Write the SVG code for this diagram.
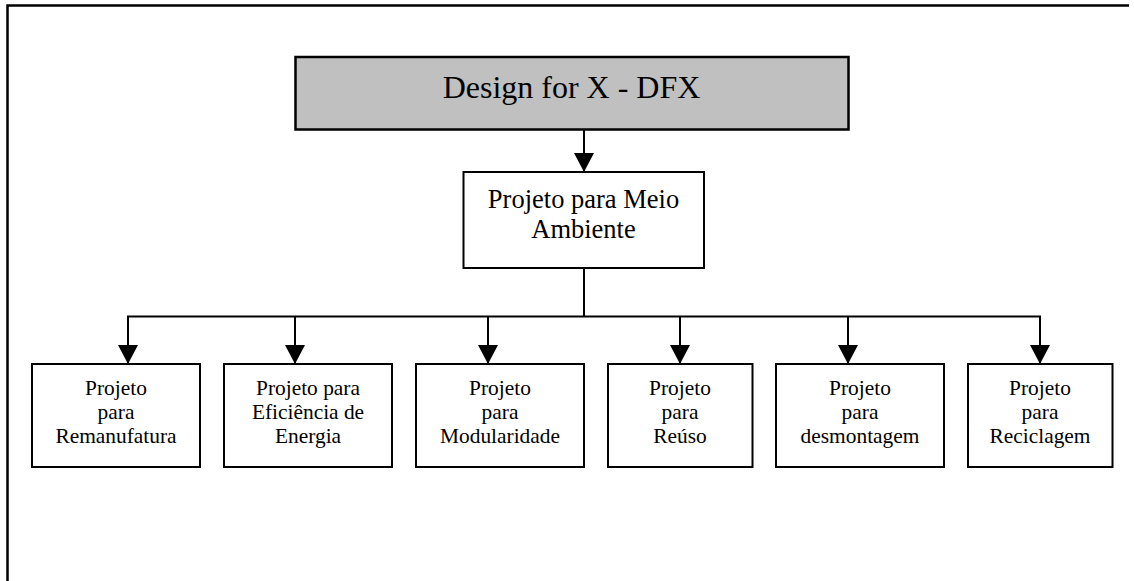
<svg xmlns="http://www.w3.org/2000/svg" width="1134" height="581" viewBox="0 0 1134 581">
  <style>
    .box { fill: #ffffff; stroke: #000000; stroke-width: 2; }
    .root { fill: #c0c0c0; stroke: #000000; stroke-width: 2.5; }
    .frame { fill: none; stroke: #000000; stroke-width: 2.5; }
    .conn { fill: none; stroke: #000000; stroke-width: 2; }
    text { font-family: "Liberation Serif", "Times New Roman", serif; fill: #000000; text-anchor: middle; }
    .t1 { font-size: 32px; }
    .t2 { font-size: 26.5px; }
    .t3 { font-size: 21.4px; }
  </style>
  <defs>
    <marker id="arrow" viewBox="0 0 19 20" refX="19" refY="10" markerUnits="userSpaceOnUse" markerWidth="19" markerHeight="20" orient="auto">
      <path d="M0,0 L19,10 L0,20 z" fill="#000000"/>
    </marker>
  </defs>

  <rect width="1134" height="581" fill="#ffffff"/>

  <!-- page frame: top and left edges -->
  <path class="frame" d="M7.5,581 L7.5,5.5 L1129,5.5"/>

  <g id="connectors">
    <line class="conn" x1="584" y1="130" x2="584" y2="172" marker-end="url(#arrow)"/>
    <line class="conn" x1="584" y1="268" x2="584" y2="316.5"/>
    <line class="conn" x1="127" y1="316.5" x2="1041" y2="316.5"/>
    <line class="conn" x1="128" y1="316.5" x2="128" y2="364" marker-end="url(#arrow)"/>
    <line class="conn" x1="295" y1="316.5" x2="295" y2="364" marker-end="url(#arrow)"/>
    <line class="conn" x1="488" y1="316.5" x2="488" y2="364" marker-end="url(#arrow)"/>
    <line class="conn" x1="680" y1="316.5" x2="680" y2="364" marker-end="url(#arrow)"/>
    <line class="conn" x1="848" y1="316.5" x2="848" y2="364" marker-end="url(#arrow)"/>
    <line class="conn" x1="1040" y1="316.5" x2="1040" y2="364" marker-end="url(#arrow)"/>
  </g>

  <g id="dfx">
    <rect class="root" x="295.5" y="57" width="553" height="72.5"/>
    <text class="t1" x="571.5" y="98">Design for X - DFX</text>
  </g>

  <g id="meio-ambiente">
    <rect class="box" x="463.5" y="172" width="240.5" height="96"/>
    <text class="t2" x="583.5" y="208">Projeto para Meio</text>
    <text class="t2" x="583.5" y="238">Ambiente</text>
  </g>

  <g id="remanufatura">
    <rect class="box" x="32" y="364" width="168" height="103"/>
    <text class="t3" x="116" y="395">Projeto</text>
    <text class="t3" x="116" y="419">para</text>
    <text class="t3" x="116" y="443">Remanufatura</text>
  </g>

  <g id="eficiencia-energia">
    <rect class="box" x="224" y="364" width="168" height="103"/>
    <text class="t3" x="308" y="395">Projeto para</text>
    <text class="t3" x="308" y="419">Eficiência de</text>
    <text class="t3" x="308" y="443">Energia</text>
  </g>

  <g id="modularidade">
    <rect class="box" x="416" y="364" width="168" height="103"/>
    <text class="t3" x="500" y="395">Projeto</text>
    <text class="t3" x="500" y="419">para</text>
    <text class="t3" x="500" y="443">Modularidade</text>
  </g>

  <g id="reuso">
    <rect class="box" x="608" y="364" width="144.5" height="103"/>
    <text class="t3" x="680" y="395">Projeto</text>
    <text class="t3" x="680" y="419">para</text>
    <text class="t3" x="680" y="443">Reúso</text>
  </g>

  <g id="desmontagem">
    <rect class="box" x="776" y="364" width="168" height="103"/>
    <text class="t3" x="860" y="395">Projeto</text>
    <text class="t3" x="860" y="419">para</text>
    <text class="t3" x="860" y="443">desmontagem</text>
  </g>

  <g id="reciclagem">
    <rect class="box" x="968" y="364" width="144.5" height="103"/>
    <text class="t3" x="1040" y="395">Projeto</text>
    <text class="t3" x="1040" y="419">para</text>
    <text class="t3" x="1040" y="443">Reciclagem</text>
  </g>
</svg>
